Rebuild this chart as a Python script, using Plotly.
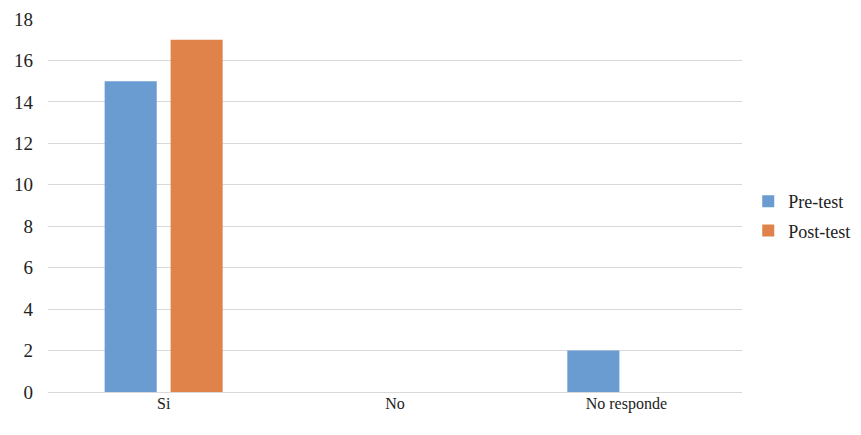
import plotly.graph_objects as go

categories = ["Si", "No", "No responde"]
pre_test = [15, 0, 2]
post_test = [17, 0, 0]
y_ticks = [0, 2, 4, 6, 8, 10, 12, 14, 16, 18]

fig = go.Figure()
fig.add_trace(go.Bar(x=categories, y=pre_test, name="Pre-test",
                     marker=dict(color="#6a9bd1", line=dict(width=0)), legendgroup="a"))
fig.add_trace(go.Bar(x=categories, y=post_test, name="Post-test",
                     marker=dict(color="#e0834a", line=dict(width=0)), legendgroup="b"))

font_family = "Liberation Serif, Times New Roman, serif"
# page body adds an 8px offset, so the figure is drawn 8px smaller
fig.update_layout(
    width=853, height=427,
    margin=dict(l=40, r=119, t=11, b=43, autoexpand=False),
    paper_bgcolor="white", plot_bgcolor="white",
    barmode="group", bargap=0.43, bargroupgap=0.21,
    font=dict(family=font_family, size=16, color="#222222"),
    showlegend=True,
    legend=dict(x=1.009, y=0.472, xanchor="left", yanchor="middle",
                font=dict(family=font_family, size=18, color="#222222"),
                traceorder="grouped", tracegroupgap=3, itemwidth=30),
    xaxis=dict(showgrid=False, showline=False, ticks="", tickfont=dict(size=16),
               automargin=False),
    yaxis=dict(range=[0, 18], tickvals=y_ticks, showgrid=True, gridcolor="#d9d9d9",
               gridwidth=1, zeroline=True, zerolinecolor="#d9d9d9", zerolinewidth=1,
               showline=False, ticks="", tickfont=dict(size=19), ticklabelstandoff=14,
               automargin=False),
)
fig.write_html("out.html")
